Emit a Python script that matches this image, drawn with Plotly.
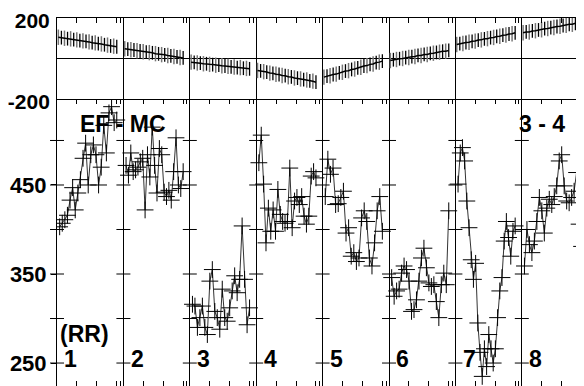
import plotly.graph_objects as go

# ---------------- data ----------------
segment_labels = ["1", "2", "3", "4", "5", "6", "7", "8"]

# top panel (values per segment)
top1 = [105, 103, 100, 98, 97, 93, 92, 88, 87, 84, 82, 78, 77, 73, 72, 68, 66, 62, 61, 58]
top2 = [48, 46, 43, 42, 38, 37, 33, 32, 29, 28, 24, 23, 19, 18, 15, 13, 10, 8, 5, 3]
top3 = [-18, -19, -22, -23, -26, -26, -29, -30, -33, -33, -36, -37, -39, -41, -42, -45, -45, -48, -49, -51]
top4 = [-59, -61, -65, -67, -72, -73, -78, -79, -84, -85, -90, -91, -96, -97, -101, -104, -106, -111, -112, -117]
top5 = [-92, -87, -85, -79, -77, -71, -68, -62, -60, -54, -52, -46, -43, -37, -35, -29, -27, -20, -18, -13]
top6 = [-10, -6, -5, -1, 0, 4, 5, 9, 10, 15, 15, 20, 20, 25, 26, 30, 31, 36, 36, 40]
top7 = [69, 73, 74, 79, 80, 85, 86, 91, 92, 97, 98, 103, 104, 109, 110, 115, 116, 121, 122, 127]
top8 = [127, 131, 131, 136, 137, 141, 142, 147, 148, 152, 153, 158, 159, 163, 164, 169, 169, 174, 175, 179]
top_segments = [top1, top2, top3, top4, top5, top6, top7, top8]

# bottom panel RR intervals per segment
rr1 = [403, 407, 411, 416, 433, 447, 422, 441, 456, 480, 497, 450, 484, 495, 484, 450, 470, 517, 486, 531, 538, 520, 523]
rr2 = [472, 461, 486, 465, 467, 470, 476, 480, 422, 484, 459, 515, 472, 441, 491, 484, 442, 437, 444, 433, 465, 503, 450, 446, 465]
rr3 = [316, 314, 290, 301, 314, 290, 282, 342, 355, 308, 301, 288, 333, 301, 297, 312, 331, 348, 329, 344, 404, 344, 293, 312]
rr4 = [475, 506, 451, 385, 424, 398, 422, 398, 445, 417, 409, 407, 409, 469, 402, 432, 436, 428, 437, 415, 406, 415, 460, 465, 458]
rr5 = [437, 479, 462, 469, 428, 429, 436, 443, 396, 402, 370, 374, 364, 368, 413, 421, 409, 368, 359, 385, 421, 437, 398]
rr6 = [346, 325, 331, 333, 351, 359, 355, 342, 308, 310, 321, 342, 368, 379, 357, 340, 336, 338, 319, 301, 338, 351, 338, 421]
rr7 = [451, 486, 492, 477, 432, 402, 366, 344, 362, 295, 262, 235, 266, 246, 282, 266, 250, 266, 301, 331, 346, 387, 409, 391, 370, 398, 404]
rr8 = [359, 400, 383, 374, 387, 409, 436, 421, 396, 424, 434, 428, 437, 449, 477, 484, 449, 432, 430, 436, 443, 464, 406, 381]
rr_segments = [rr1, rr2, rr3, rr4, rr5, rr6, rr7, rr8]

top_ticks = [-200, 200]
rr_ticks = [250, 300, 350, 400, 450, 500]
rr_ticktext = ["250", "", "350", "", "450", ""]
small_tick_offsets = [0.30, 0.60, 0.90, 0.955]

# ---------------- build ----------------
FONT = dict(family="Liberation Sans", size=23, color="black", weight="bold")
TICKFONT = dict(family="Liberation Sans", size=22, color="black", weight="bold")
TOPTICKFONT = dict(family="Liberation Sans", size=21, color="black", weight="bold")
fig = go.Figure()

# top panel traces
tx, ty = [], []
gx, gy, bx, by = [], [], [], []
for k, seg in enumerate(top_segments):
    n = len(seg)
    for i, v in enumerate(seg):
        x = k + 0.02 + 0.88 * i / (n - 1)
        tx.append(x); ty.append(v)
        if i % 2 == 0:
            gx.append(x); gy.append(v)
        else:
            bx.append(x); by.append(v)
    tx.append(None); ty.append(None)

fig.add_trace(go.Scatter(x=gx, y=gy, mode="markers", xaxis="x2", yaxis="y2",
                         marker=dict(size=1, color="rgba(0,0,0,0)"),
                         error_y=dict(type="constant", value=38, color="#777777", thickness=1.5, width=0),
                         showlegend=False, hoverinfo="skip"))
fig.add_trace(go.Scatter(x=bx, y=by, mode="markers", xaxis="x2", yaxis="y2",
                         marker=dict(size=1, color="rgba(0,0,0,0)"),
                         error_y=dict(type="constant", value=34, color="black", thickness=1.3, width=0),
                         showlegend=False, hoverinfo="skip"))
fig.add_trace(go.Scatter(x=tx, y=ty, mode="lines", xaxis="x2", yaxis="y2",
                         line=dict(color="black", width=1.5),
                         showlegend=False, hoverinfo="skip"))

# bottom panel RR trace
rx, ry = [], []
for k, seg in enumerate(rr_segments):
    n = len(seg)
    for i, v in enumerate(seg):
        rx.append(k + 0.04 + 0.86 * i / (n - 1)); ry.append(v)
    rx.append(None); ry.append(None)
fig.add_trace(go.Scatter(x=rx, y=ry, mode="lines+markers", xaxis="x", yaxis="y",
                         line=dict(color="#333333", width=1),
                         marker=dict(symbol="cross-thin", size=12, line=dict(color="black", width=1)),
                         showlegend=False, hoverinfo="skip"))

# crossing y-ticks at each divider (bottom panel)
cx, cy = [], []
for k in range(8):
    for v in rr_ticks:
        cx.append(k); cy.append(v)
fig.add_trace(go.Scatter(x=cx, y=cy, mode="markers", xaxis="x", yaxis="y", cliponaxis=False,
                         marker=dict(symbol="line-ew", size=10, line=dict(color="black", width=1)),
                         showlegend=False, hoverinfo="skip"))

small_ticks = [k + o for k in range(8) for o in small_tick_offsets]
dividers = list(range(0, 9))
XR = [0, 527 / 66.4]

fig.update_layout(
    width=584, height=386,
    # page body has an 8px default margin; compensate so the plot lands where the reference has it
    margin=dict(l=49, r=8, t=10, b=8, autoexpand=False),
    paper_bgcolor="white", plot_bgcolor="white",
    font=FONT,
    xaxis=dict(domain=[0, 1], anchor="y", range=XR, showline=False, automargin=False,
               tickmode="array", tickvals=small_ticks, ticks="inside", ticklen=5,
               tickcolor="black", mirror="ticks", showticklabels=False, showgrid=False, zeroline=False,
               minor=dict(tickmode="array", tickvals=dividers, showgrid=True, gridcolor="black",
                          gridwidth=1.2, ticks="")),
    xaxis2=dict(domain=[0, 1], anchor="y2", range=XR, matches="x", side="top", automargin=False,
                showline=True, linecolor="black", linewidth=1, mirror=True,
                tickmode="array", tickvals=small_ticks, ticks="inside", ticklen=5,
                tickcolor="black", showticklabels=False, showgrid=False, zeroline=False,
                minor=dict(tickmode="array", tickvals=dividers, showgrid=True, gridcolor="black",
                           gridwidth=1.2, ticks="")),
    yaxis=dict(domain=[0, 0.7799], anchor="x", range=[224.2, 546.6], automargin=False,
               tickmode="array", tickvals=rr_ticks, ticktext=rr_ticktext,
               ticks="outside", ticklen=5, tickcolor="black", ticklabeloverflow="allow",
               showline=True, linecolor="black", linewidth=1,
               showgrid=False, zeroline=False, tickfont=TICKFONT),
    yaxis2=dict(domain=[0.7799, 1], anchor="x2", range=[-200, 200], automargin=False,
                tickmode="array", tickvals=top_ticks, ticktext=[str(t) for t in top_ticks],
                ticks="outside", ticklen=2, tickcolor="rgba(0,0,0,0)", ticklabeloverflow="allow",
                ticklabelshift=3,
                showline=True, linecolor="black", linewidth=1,
                showgrid=False, zeroline=True, zerolinecolor="black", zerolinewidth=1,
                tickfont=TOPTICKFONT),
)

# segment labels
for k, lab in enumerate(segment_labels):
    fig.add_annotation(x=k + 0.21, y=254.5, xref="x", yref="y", text=lab, showarrow=False,
                       font=FONT, xanchor="center", yanchor="middle")
fig.add_annotation(x=0.41, y=282.5, xref="x", yref="y", text="(RR)", showarrow=False,
                   font=FONT, xanchor="center", yanchor="middle")
fig.add_annotation(x=1.0, y=518.5, xref="x", yref="y", text="EF - MC", showarrow=False,
                   font=FONT, xanchor="center", yanchor="middle")
fig.add_annotation(x=7.30, y=518.5, xref="x", yref="y", text="3 - 4", showarrow=False,
                   font=FONT, xanchor="center", yanchor="middle")

fig.write_html("out.html")
